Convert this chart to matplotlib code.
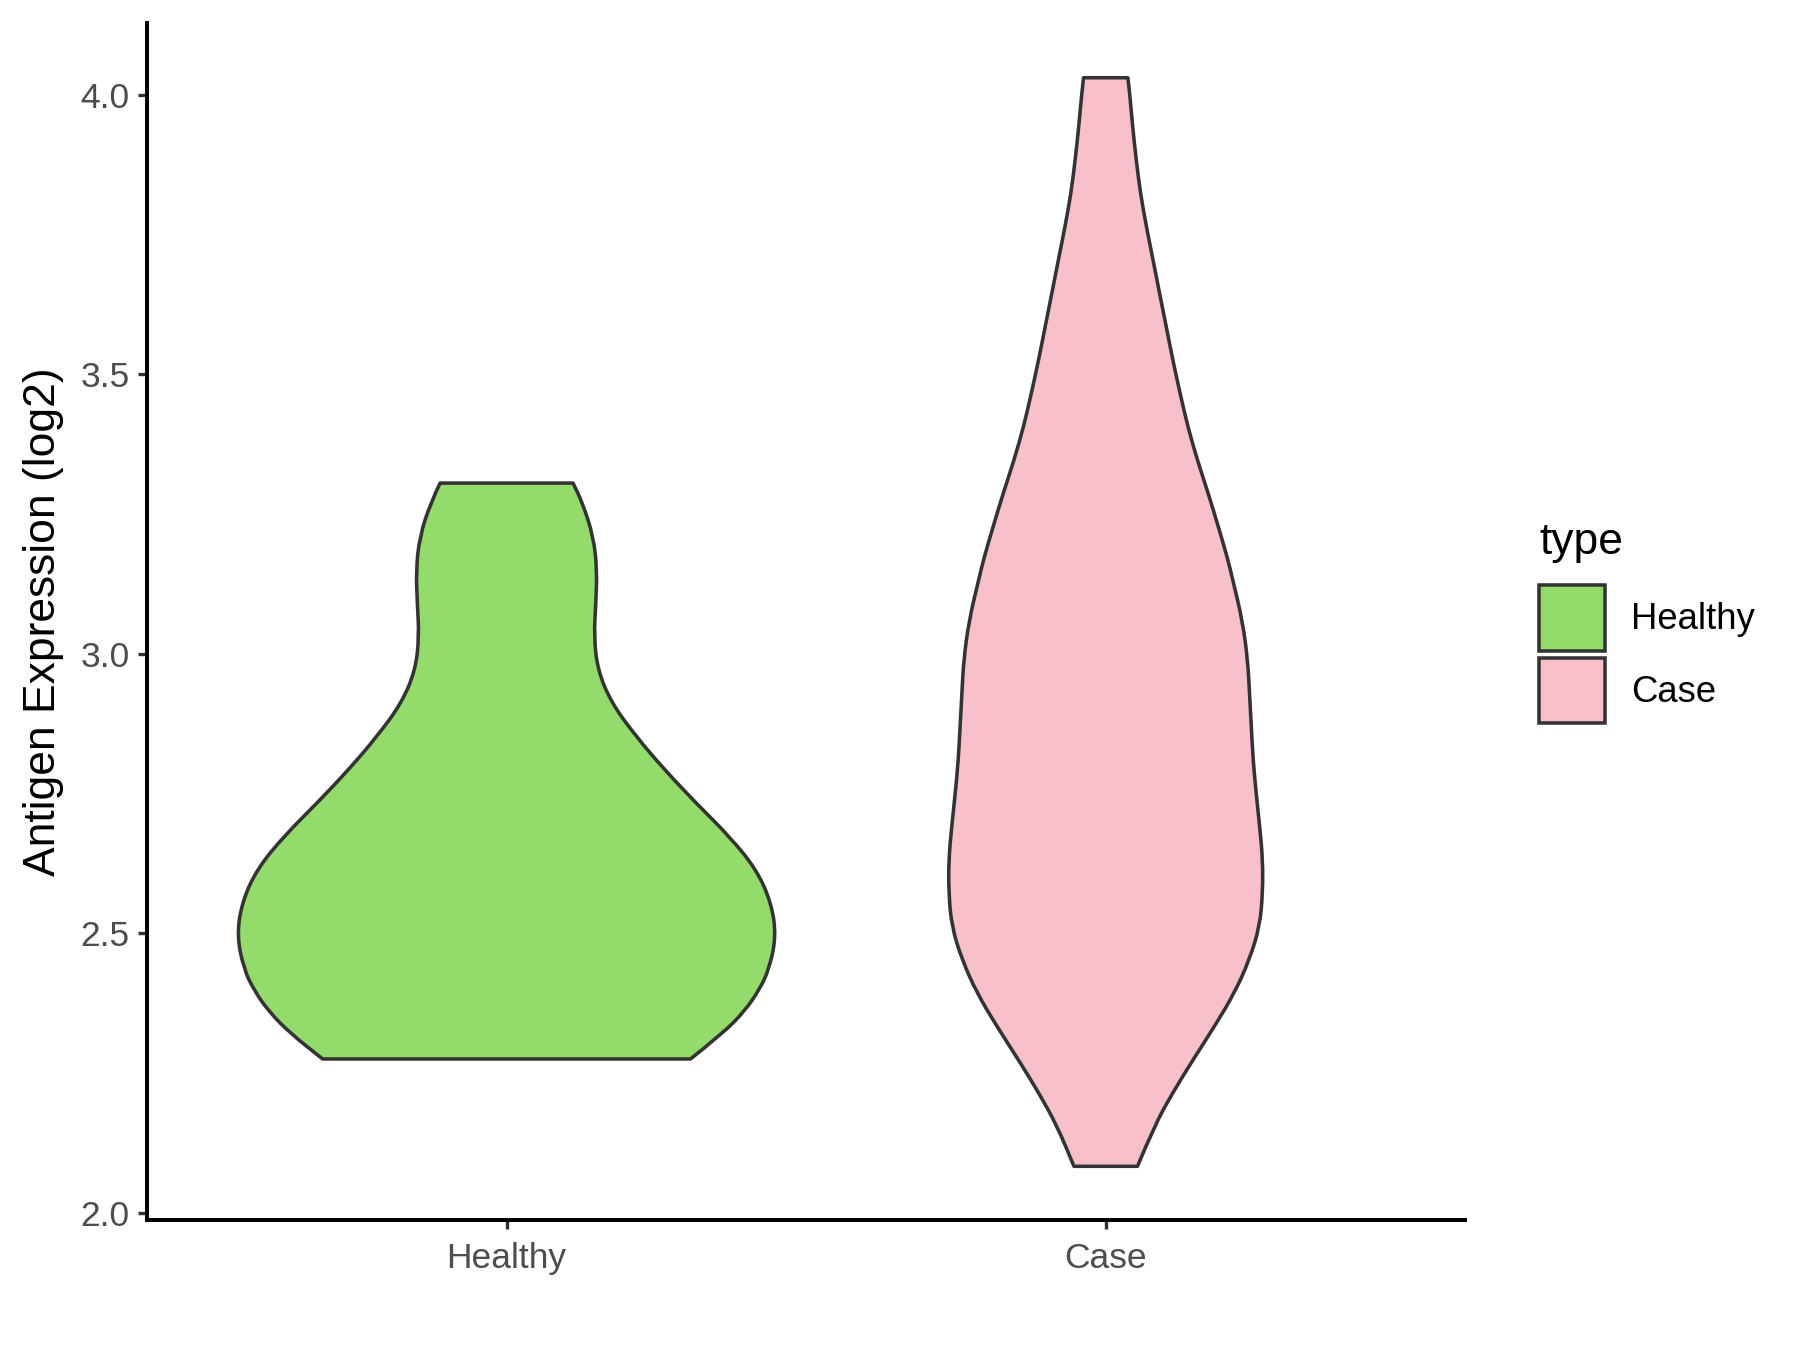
import numpy as np
import matplotlib.pyplot as plt
from matplotlib.patches import Patch, PathPatch
from matplotlib.path import Path

plt.rcParams['font.family'] = ['Liberation Sans', 'DejaVu Sans']

# Données : profils des violons (y, demi-largeur en unités de catégorie)
categories = ['Healthy', 'Case']
colors = ['#93DB6A', '#F7C0CB']

healthy_y = [3.305, 3.269, 3.209, 3.150, 3.090, 3.031, 2.971, 2.912, 2.852, 2.792,
             2.733, 2.673, 2.614, 2.554, 2.494, 2.435, 2.399, 2.36, 2.32, 2.275]
healthy_w = [0.111, 0.127, 0.145, 0.151, 0.149, 0.146, 0.152, 0.175, 0.216, 0.264,
             0.316, 0.372, 0.417, 0.442, 0.450, 0.438, 0.422, 0.397, 0.360, 0.307]

case_y = [4.030, 4.002, 3.942, 3.882, 3.823, 3.763, 3.704, 3.644, 3.585, 3.525, 3.466,
          3.406, 3.346, 3.287, 3.227, 3.168, 3.132, 3.06, 2.989, 2.929, 2.870, 2.810,
          2.751, 2.691, 2.632, 2.572, 2.512, 2.453, 2.393, 2.334, 2.274, 2.215, 2.155, 2.083]
case_w = [0.037, 0.040, 0.045, 0.051, 0.058, 0.068, 0.079, 0.090, 0.101, 0.112, 0.124,
          0.137, 0.153, 0.171, 0.188, 0.204, 0.212, 0.228, 0.237, 0.240, 0.243, 0.246,
          0.251, 0.257, 0.262, 0.262, 0.257, 0.240, 0.215, 0.182, 0.146, 0.112, 0.081, 0.053]

profiles = [(healthy_y, healthy_w), (case_y, case_w)]


def cote_lisse(pts, verts, codes):
    # courbes quadratiques : points lus = points de contrôle, milieux = extrémités
    n = len(pts)
    verts.append((pts[0] + pts[1]) / 2)
    codes.append(Path.LINETO)
    for i in range(1, n - 1):
        fin = (pts[i] + pts[i + 1]) / 2 if i < n - 2 else pts[i + 1]
        verts += [pts[i], fin]
        codes += [Path.CURVE3, Path.CURVE3]


fig = plt.figure(figsize=(12, 9), dpi=150)
ax = fig.add_axes([0.0817, 0.0963, 0.7323, 0.8867])

for i, (ys, ws) in enumerate(profiles):
    ys = np.array(ys)
    ws = np.array(ws)
    pos = i + 1
    gauche = np.column_stack([pos - ws, ys])[::-1]   # du bas vers le haut
    droite = np.column_stack([pos + ws, ys])         # du haut vers le bas
    verts = [gauche[0]]
    codes = [Path.MOVETO]
    cote_lisse(gauche, verts, codes)
    verts.append(droite[0])
    codes.append(Path.LINETO)
    cote_lisse(droite, verts, codes)
    verts.append(gauche[0])
    codes.append(Path.CLOSEPOLY)
    ax.add_patch(PathPatch(Path(verts, codes), facecolor=colors[i], edgecolor='#333333',
                           linewidth=1.7, joinstyle='round'))

ax.set_xlim(0.4, 2.6)
ax.set_ylim(1.987, 4.128)
ax.set_xticks([1, 2])
ax.set_xticklabels(categories)
ax.set_yticks([2.0, 2.5, 3.0, 3.5, 4.0])
ax.set_yticklabels(['2.0', '2.5', '3.0', '3.5', '4.0'])

for s in ['top', 'right']:
    ax.spines[s].set_visible(False)
for s in ['left', 'bottom']:
    ax.spines[s].set_linewidth(1.9)
    ax.spines[s].set_color('black')
    ax.spines[s].set_capstyle('projecting')

ax.tick_params(axis='both', length=4.3, width=1.6, color='#333333', labelsize=17,
               labelcolor='#4D4D4D')
ax.tick_params(axis='x', pad=6.5)
ax.tick_params(axis='y', pad=4)
ax.set_ylabel('Antigen Expression (log2)', fontsize=21.3)
ax.yaxis.set_label_coords(-0.063, 0.5)

handles = [Patch(facecolor=colors[i], edgecolor='#333333', linewidth=1.7, label=c)
           for i, c in enumerate(categories)]
leg = ax.legend(handles=handles, title='type', loc='upper left', bbox_to_anchor=(0.847, 0.624),
                bbox_transform=fig.transFigure, frameon=False, fontsize=17.5, title_fontsize=21.3,
                handlelength=1.81, handleheight=2.38, labelspacing=0.19, handletextpad=0.71,
                borderaxespad=0)
leg._legend_box.align = 'left'
leg._legend_box.sep = 10.7

plt.savefig('out.png', dpi=150)
